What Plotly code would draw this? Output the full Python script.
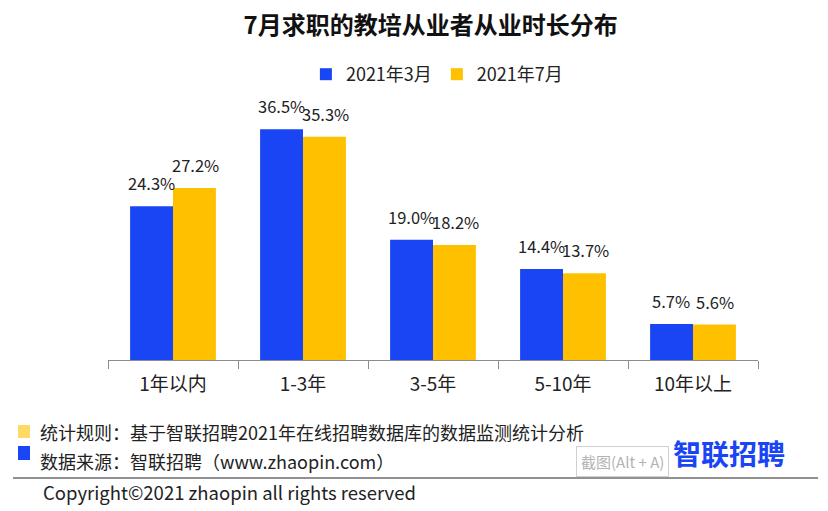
import plotly.graph_objects as go

categories = ["1年以内", "1-3年", "3-5年", "5-10年", "10年以上"]
series_names = ["2021年3月", "2021年7月"]
values_mar = [24.3, 36.5, 19.0, 14.4, 5.7]
values_jul = [27.2, 35.3, 18.2, 13.7, 5.6]
colors = ["#1A45F5", "#FFC000"]

FONT = "Noto Sans CJK SC, Microsoft YaHei, sans-serif"

fig = go.Figure()
for name, vals, col in zip(series_names, [values_mar, values_jul], colors):
    fig.add_trace(go.Bar(x=categories, y=vals, name=name, marker_color=col,
                         marker_line_width=0))

# value labels
for vals, shift in [(values_mar, -22), (values_jul, 22)]:
    for c, v in zip(categories, vals):
        fig.add_annotation(x=c, y=v, text=f"{v:.1f}%", showarrow=False,
                           xshift=shift, yanchor="bottom", yshift=9,
                           font=dict(size=16.5, color="#222222", family=FONT))

fig.update_layout(
    width=828, height=511,
    margin=dict(l=108, r=70, t=107, b=151),
    paper_bgcolor="white", plot_bgcolor="white",
    barmode="group", bargap=0.34, bargroupgap=0,
    font=dict(family=FONT, color="#222222"),
    title=dict(text="<b>7月求职的教培从业者从业时长分布</b>", x=0.52, xanchor="center",
               y=1 - 26 / 511, yanchor="middle", font=dict(size=24, color="#111111", family=FONT)),
    legend=dict(orientation="h", x=0.506, xanchor="center", y=1 - 56 / 511, yref="container",
                yanchor="top", font=dict(size=18, color="#222222"),
                itemwidth=30, traceorder="normal"),
    showlegend=True,
)
fig.update_xaxes(showline=True, linecolor="#8c8c8c", linewidth=1, ticks="outside",
                 tickson="boundaries", ticklen=8, tickcolor="#8c8c8c",
                 ticklabelstandoff=7,
                 tickfont=dict(size=19, color="#222222"), showgrid=False)
fig.update_yaxes(range=[0, 40], visible=False, showgrid=False)

# footer (paper coords converted from plot area: x 108..758, y 107..360)
def fx(x):
    return (x - 108) / 650
def fy(y):
    return (360 - y) / 253

fig.add_shape(type="rect", xref="paper", yref="paper",
              x0=fx(18), x1=fx(30), y0=fy(425), y1=fy(438), fillcolor="#FFD966", line_width=0)
fig.add_shape(type="rect", xref="paper", yref="paper",
              x0=fx(18), x1=fx(30), y0=fy(446), y1=fy(460), fillcolor="#1A45F5", line_width=0)
fig.add_shape(type="line", xref="paper", yref="paper",
              x0=fx(13), x1=fx(818), y0=fy(478), y1=fy(478), line=dict(color="#222222", width=1))

fig.add_annotation(xref="paper", yref="paper", x=fx(38), y=fy(432),
                   xanchor="left", yanchor="middle", showarrow=False,
                   text="统计规则：基于智联招聘2021年在线招聘数据库的数据监测统计分析",
                   font=dict(size=18, color="#222222", family=FONT))
fig.add_annotation(xref="paper", yref="paper", x=fx(38), y=fy(461),
                   xanchor="left", yanchor="middle", showarrow=False,
                   text="数据来源：智联招聘（www.zhaopin.com）",
                   font=dict(size=18, color="#222222", family=FONT))
fig.add_annotation(xref="paper", yref="paper", x=fx(41), y=fy(492),
                   xanchor="left", yanchor="middle", showarrow=False,
                   text="Copyright©2021 zhaopin all rights reserved",
                   font=dict(size=18.5, color="#222222", family=FONT))
# logo
fig.add_annotation(xref="paper", yref="paper", x=fx(729), y=fy(453),
                   xanchor="center", yanchor="middle", showarrow=False,
                   text="<b>智联招聘</b>",
                   font=dict(size=28, color="#1A45F5", family=FONT))
# screenshot hint overlay
fig.add_annotation(xref="paper", yref="paper", x=fx(622), y=fy(461),
                   xanchor="center", yanchor="middle", showarrow=False,
                   text="截图(Alt + A)", bgcolor="rgba(255,255,255,0.8)",
                   bordercolor="#d0d0d0", borderwidth=1, borderpad=4,
                   font=dict(size=15, color="#b3b3b3", family=FONT))

fig.write_html("out.html", config={"displayModeBar": False},
               post_script="document.body.style.margin='0';")
